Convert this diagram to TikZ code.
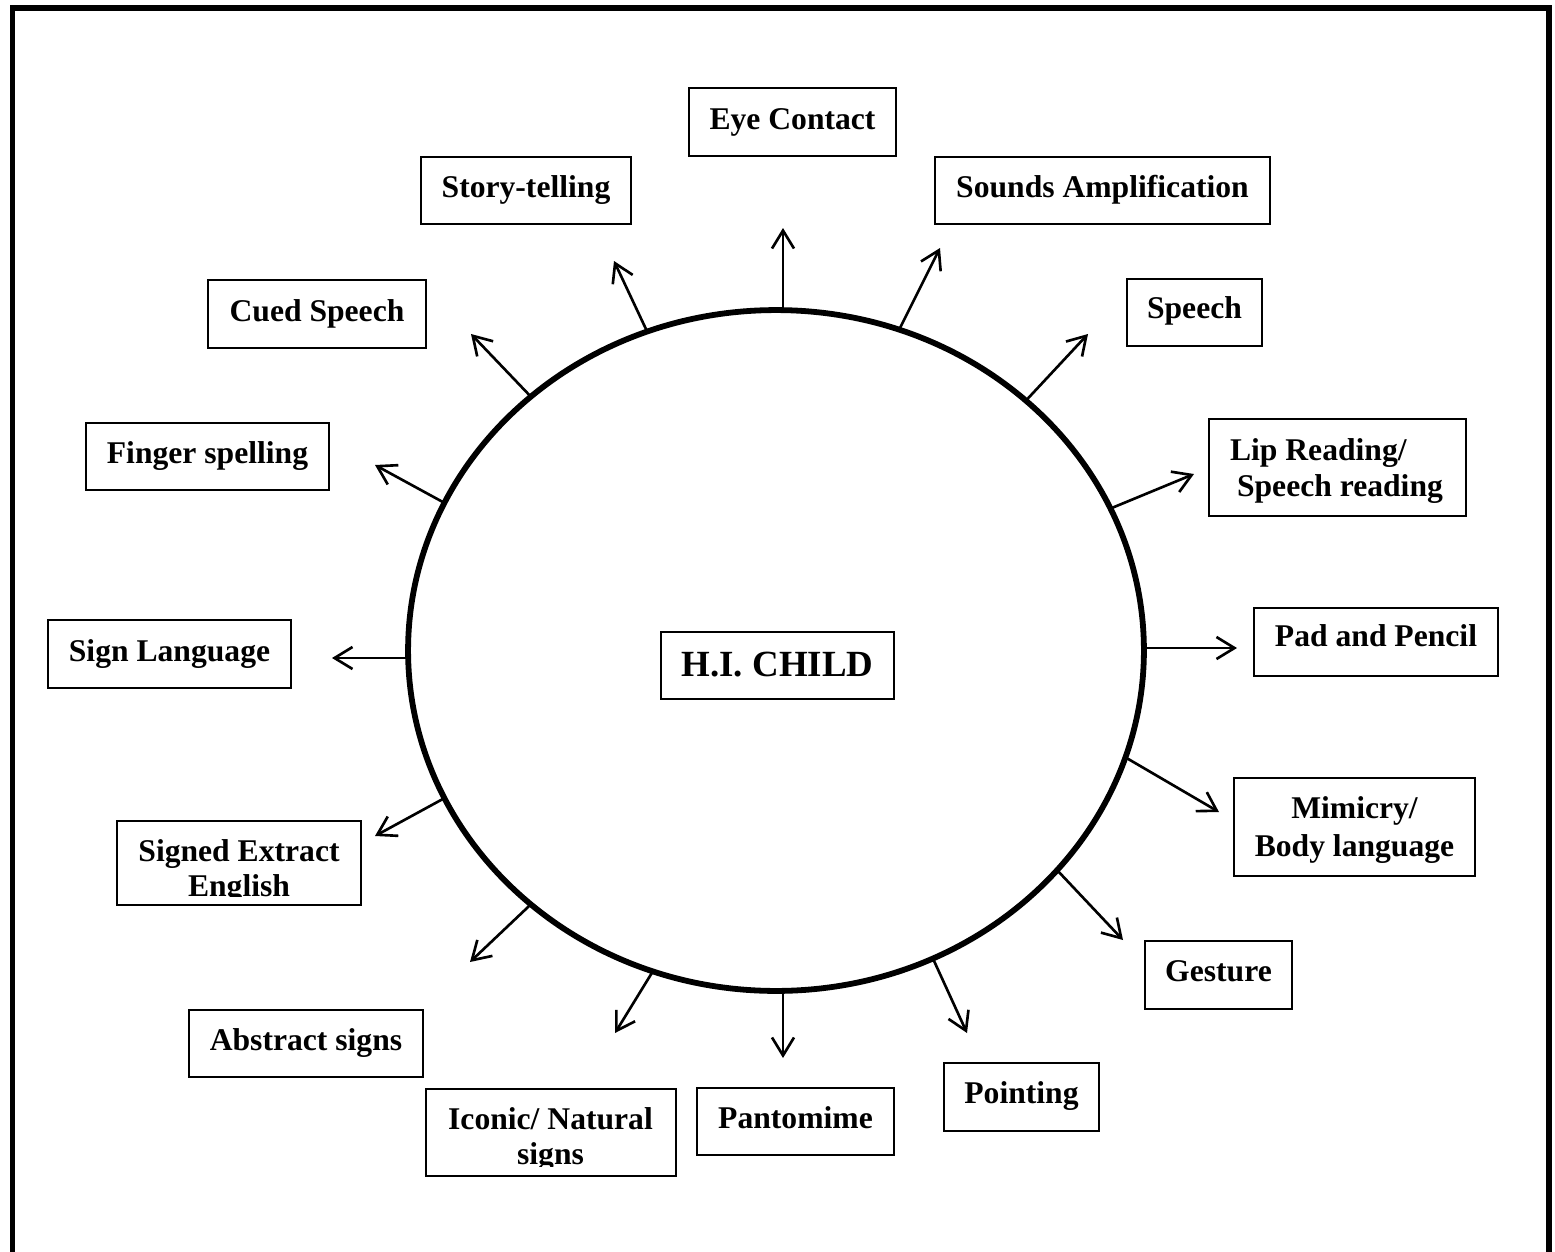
\documentclass[tikz,border=0pt]{standalone}
\usepackage{fontspec}
\setmainfont{Liberation Serif}
\usetikzlibrary{arrows.meta,shapes.geometric,fit}
\begin{document}
\begin{tikzpicture}[x=0.02cm,y=-0.02cm,
  box/.style={draw, line width=0.95pt, inner sep=0pt, outer sep=0pt},
  lbl/.style={inner sep=0pt, outer sep=0pt, anchor=base, font=\fontsize{18}{20.4}\selectfont\bfseries},
  ray/.style={line width=1.5pt, -{Straight Barb[length=0.36cm, width=0.44cm]}},
]
\useasboundingbox (0,0) rectangle (1555,1251);
\clip (0,0) rectangle (1555,1251);
\fill[white] (0,0) rectangle (1555,1251);
% outer frame
\draw[line width=3pt] (12.5,8) rectangle (1549,1320);

% central circle
\node[draw, ellipse, line width=3.3pt, inner sep=0pt, outer sep=0pt,
      minimum width=14.72cm, minimum height=13.62cm] (circ) at (776,650.5) {};

% centre box
\node[box, fit={(661,632)(894,699)}] (hi) {};
\node[lbl, font=\fontsize{21}{24}\selectfont\bfseries] (hi-t) at (777.5,676) {H.I. CHILD};

% boxes
\node[box, fit={(689,88)(896,156)}] (eye) {};
\node[lbl] (eye-t) at (792.5,129.5) {Eye Contact};

\node[box, fit={(421,157)(631,224)}] (story) {};
\node[lbl] (story-t) at (526,197.5) {Story-telling};

\node[box, fit={(935,157)(1270,224)}] (sounds) {};
\node[lbl] (sounds-t) at (1102.5,197.5) {Sounds Amplification};

\node[box, fit={(208,280)(426,348)}] (cued) {};
\node[lbl] (cued-t) at (317,321) {Cued Speech};

\node[box, fit={(1127,279)(1262,346)}] (speech) {};
\node[lbl] (speech-t) at (1194.5,318.5) {Speech};

\node[box, fit={(86,423)(329,490)}] (finger) {};
\node[lbl] (finger-t) at (207.5,463.5) {Finger spelling};

\node[box, fit={(1209,419)(1466,516)}] (lip) {};
\node[lbl, anchor=base west] (lip-t) at (1230,460)
  {\begin{tabular}[t]{@{}l@{}}Lip Reading/\\[0.4pt]\hspace{4pt}Speech reading\end{tabular}};

\node[box, fit={(48,620)(291,688)}] (sign) {};
\node[lbl] (sign-t) at (169.5,661.5) {Sign Language};

\node[box, fit={(1254,608)(1498,676)}] (pad) {};
\node[lbl] (pad-t) at (1376,646) {Pad and Pencil};

\node[box, fit={(1234,778)(1475,876)}] (mim) {};
\node[lbl] (mim-t) at (1354.5,818)
  {\begin{tabular}[t]{@{}c@{}}Mimicry/\\[1.5pt]Body language\end{tabular}};

\node[box, fit={(117,821)(361,905)}] (signed) {};
\begin{scope}
  \clip (117,821) rectangle (361,896.5);
  \node[lbl] (signed-t) at (239,861)
    {\begin{tabular}[t]{@{}c@{}}Signed Extract\\English\end{tabular}};
\end{scope}

\node[box, fit={(1145,941)(1292,1009)}] (gest) {};
\node[lbl] (gest-t) at (1218.5,981.5) {Gesture};

\node[box, fit={(189,1010)(423,1077)}] (abs) {};
\node[lbl] (abs-t) at (306,1050.5) {Abstract signs};

\node[box, fit={(944,1063)(1099,1131)}] (point) {};
\node[lbl] (point-t) at (1021.5,1103.5) {Pointing};

\node[box, fit={(426,1089)(676,1176)}] (icon) {};
\begin{scope}
  \clip (426,1089) rectangle (676,1166);
  \node[lbl] (icon-t) at (550.5,1129)
    {\begin{tabular}[t]{@{}c@{}}Iconic/ Natural\\signs\end{tabular}};
\end{scope}

\node[box, fit={(697,1088)(894,1155)}] (panto) {};
\node[lbl] (panto-t) at (795.5,1128.5) {Pantomime};

% arrow end points
\coordinate (e-eye) at (783,228);
\coordinate (e-sounds) at (940,248);
\coordinate (e-speech) at (1088,334);
\coordinate (e-lip) at (1194,474);
\coordinate (e-pad) at (1237,648);
\coordinate (e-mim) at (1219,812);
\coordinate (e-gest) at (1123,940);
\coordinate (e-point) at (967,1033);
\coordinate (e-panto) at (783,1058);
\coordinate (e-icon) at (615,1033);
\coordinate (e-abs) at (470,962);
\coordinate (e-signed) at (375,836);
\coordinate (e-sign) at (332,658);
\coordinate (e-finger) at (375,465);
\coordinate (e-cued) at (471,334);
\coordinate (e-story) at (614,261);

% arrows
\draw[ray] (e-eye |- circ.north) -- (e-eye);
\draw[ray] (circ.69.6) -- (e-sounds);
\draw[ray] (circ.45.5) -- (e-speech);
\draw[ray] (circ.23.1) -- (e-lip);
\draw[ray] (circ.east |- e-pad) -- (e-pad);
\draw[ray] (circ.-17.2) -- (e-mim);
\draw[ray] (circ.-38.5) -- (e-gest);
\draw[ray] (circ.-63.4) -- (e-point);
\draw[ray] (e-panto |- circ.south) -- (e-panto);
\draw[ray] (circ.-111.2) -- (e-icon);
\draw[ray] (circ.-134.4) -- (e-abs);
\draw[ray] (circ.-156.7) -- (e-signed);
\draw[ray] (circ.west |- e-sign) -- (e-sign);
\draw[ray] (circ.156.0) -- (e-finger);
\draw[ray] (circ.134.0) -- (e-cued);
\draw[ray] (circ.112.2) -- (e-story);
\end{tikzpicture}
\end{document}
